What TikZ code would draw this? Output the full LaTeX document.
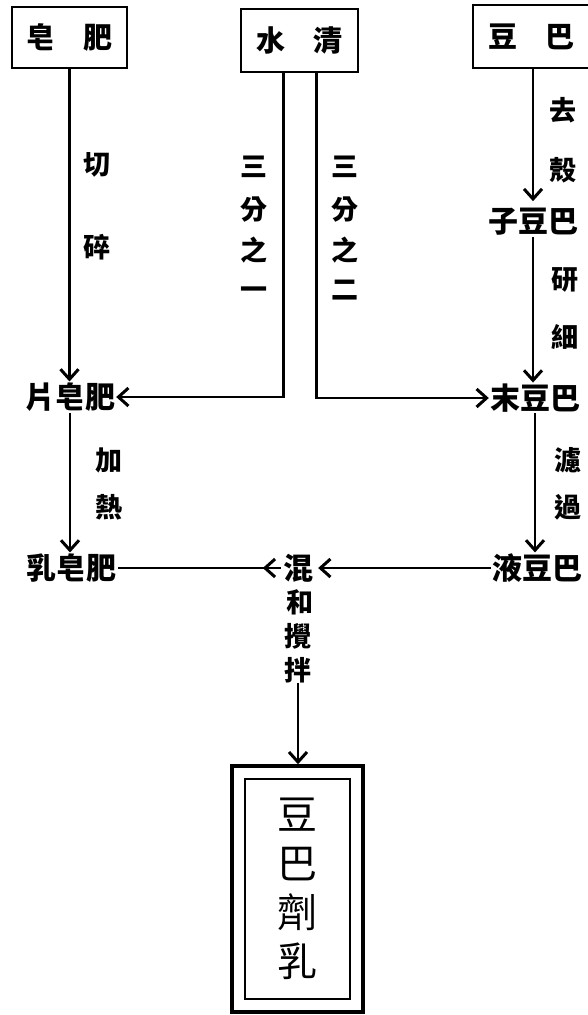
\documentclass[tikz,border=0pt]{standalone}
\usepackage{fontspec}
\newfontfamily\cjk{Noto Sans CJK TC}
\usetikzlibrary{arrows.meta}
\begin{document}
\begin{tikzpicture}[x=1pt,y=-1pt,
  lbl/.style={font=\cjk\bfseries\fontsize{27}{27}\selectfont, inner sep=0pt},
  item/.style={font=\cjk\bfseries\fontsize{30}{30}\selectfont, inner sep=1pt},
  topbox/.style={draw, line width=2.4pt, inner sep=0pt, font=\cjk\bfseries\fontsize{29}{29}\selectfont},
  conn/.style={line width=2.5pt},
  arr/.style={conn, -{Straight Barb[length=10pt,width=18pt,line width=3pt]}},
  outerbox/.style={draw, line width=3.5pt, minimum width=131pt, minimum height=246pt, inner sep=0pt,
    align=center, font=\cjk\fontsize{40}{49}\selectfont},
  innerbox/.style={draw, line width=2.4pt}
]
\useasboundingbox (0,0) rectangle (588,1015);

% top boxes
\node[topbox, minimum width=115pt, minimum height=61pt] (box1) at (69.5,37.5) {皂\hspace{28pt}肥};
\node[topbox, minimum width=117pt, minimum height=63pt] (box2) at (299.5,40.5) {水\hspace{28pt}清};
\node[topbox, minimum width=117pt, minimum height=63pt] (box3) at (531.5,36.5) {豆\hspace{28pt}巴};

% items
\node[item] (soap1) at (70,397) {片皂肥};
\node[item] (soap2) at (72,568) {乳皂肥};
\node[item] (bean1) at (533,222) {子豆巴};
\node[item] (bean2) at (535,398) {末豆巴};
\node[item] (bean3) at (537,568) {液豆巴};
\node[item, inner sep=2pt] (mix) at (298,568) {混};

% labels
\node[lbl] (l1) at (97,165) {切};
\node[lbl] (l2) at (97,247) {碎};
\node[lbl] (a1) at (254,167) {三};
\node[lbl] (a2) at (254,210) {分};
\node[lbl] (a3) at (254,250) {之};
\node[lbl] (a4) at (254,293) {一};
\node[lbl] (b1) at (345,167) {三};
\node[lbl] (b2) at (345,210) {分};
\node[lbl] (b3) at (345,250) {之};
\node[lbl] (b4) at (345,290) {二};
\node[lbl] (r1) at (563,110) {去};
\node[lbl] (r2) at (563,170) {殼};
\node[lbl] (r3) at (565,280) {研};
\node[lbl] (r4) at (565,337) {細};
\node[lbl] (r5) at (568,460) {濾};
\node[lbl] (r6) at (568,507) {過};
\node[lbl] (h1) at (109,460) {加};
\node[lbl] (h2) at (109,507) {熱};
\node[lbl] (s1) at (300,602) {和};
\node[lbl] (s2) at (298,636) {攪};
\node[lbl] (s3) at (298,670) {拌};

% final box
\node[outerbox] (final) at (297.5,889) {豆\\巴\\劑\\乳};
\draw[innerbox] ([shift={(15pt,-15pt)}]final.north west) rectangle ([shift={(-15pt,15pt)}]final.south east);

% connectors
\draw[arr] (box1.south) -- (box1.south |- soap1.north);
\draw[arr] (soap1.south) -- (soap1.south |- soap2.north);
\draw[arr] ([xshift=-16pt]box2.south) |- (soap1.east);
\draw[arr] ([xshift=17pt]box2.south) |- (bean2.west);
\draw[arr, shorten >=6pt] (box3.south -| bean1.north) -- (bean1.north);
\draw[arr] (bean1.south) -- (bean1.south |- bean2.north);
\draw[arr] (bean2.south) -- (bean2.south |- bean3.north);
\draw[conn] (soap2.east) -- (mix.west);
\draw[arr] (mix.west) -- ([xshift=-18pt]mix.west);
\draw[arr, shorten >=3pt] (bean3.west) -- (mix.east);
\draw[arr] (s3.south) -- (s3.south |- final.north);
\end{tikzpicture}
\end{document}
